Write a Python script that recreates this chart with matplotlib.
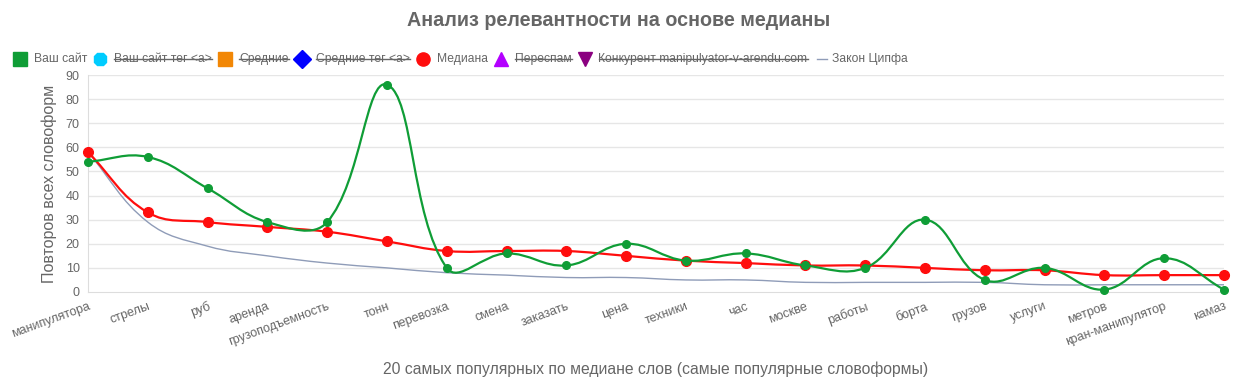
import numpy as np
import matplotlib.pyplot as plt
from matplotlib.path import Path
from matplotlib.patches import PathPatch
from matplotlib.lines import Line2D

plt.rcParams['font.family'] = ['Liberation Sans', 'DejaVu Sans']

words = ["манипулятора", "стрелы", "руб", "аренда", "грузоподъемность", "тонн",
         "перевозка", "смена", "заказать", "цена", "техники", "час", "москве",
         "работы", "борта", "грузов", "услуги", "метров", "кран-манипулятор", "камаз"]
site = [54, 56, 43, 29, 29, 86, 10, 16, 11, 20, 13, 16, 11, 10, 30, 5, 10, 1, 14, 1]
median = [58, 33, 29, 27, 25, 21, 17, 17, 17, 15, 13, 12, 11, 11, 10, 9, 9, 7, 7, 7]
zipf = [58, 29, 19, 15, 12, 10, 8, 7, 6, 6, 5, 5, 4, 4, 4, 4, 3, 3, 3, 3]

legend_items = [
    ("Ваш сайт", "#0f9d36", "s", False),
    ("Ваш сайт тег <a>", "#00ccff", "8", True),
    ("Средние", "#f28705", "s", True),
    ("Средние тег <a>", "#0000ff", "D", True),
    ("Медиана", "#ff0d0d", "o", False),
    ("Переспам", "#b300ff", "^", True),
    ("Конкурент manipulyator-v-arendu.com", "#8b0080", "v", True),
    ("Закон Ципфа", "#8f9cb8", "line", False),
]

GREY = "#666666"
W, H = 1249, 387

fig = plt.figure(figsize=(W / 100, H / 100), dpi=100)
ax = fig.add_axes([88 / W, 1 - 292 / H, (1224 - 88) / W, (292 - 75) / H])
ax.set_xlim(0, len(words) - 1)
ax.set_ylim(0, 90)

x = np.arange(len(words))


def spline(xs, ys, t=0.4):
    # chart.js-like cubic bezier with tension, computed in pixel space
    bb = ax.get_window_extent()
    sx = bb.width / (len(words) - 1)
    sy = bb.height / 90.0
    px = np.array(xs, float) * sx
    py = np.array(ys, float) * sy
    n = len(px)
    cpl = [None] * n
    cpr = [None] * n
    for i in range(n):
        p0 = (px[max(i - 1, 0)], py[max(i - 1, 0)])
        p1 = (px[i], py[i])
        p2 = (px[min(i + 1, n - 1)], py[min(i + 1, n - 1)])
        d01 = np.hypot(p1[0] - p0[0], p1[1] - p0[1])
        d12 = np.hypot(p2[0] - p1[0], p2[1] - p1[1])
        s = d01 + d12
        s01 = d01 / s if s else 0
        s12 = d12 / s if s else 0
        fa = t * s01
        fb = t * s12
        cpl[i] = (p1[0] - fa * (p2[0] - p0[0]), p1[1] - fa * (p2[1] - p0[1]))
        cpr[i] = (p1[0] + fb * (p2[0] - p0[0]), p1[1] + fb * (p2[1] - p0[1]))
    verts = [(px[0], py[0])]
    codes = [Path.MOVETO]
    for i in range(1, n):
        verts += [cpr[i - 1], cpl[i], (px[i], py[i])]
        codes += [Path.CURVE4] * 3
    verts = [(a / sx, max(b, 0) / sy) for a, b in verts]
    return Path(verts, codes)


for yv in range(10, 91, 10):
    ax.axhline(yv, color="#e6e6e6", lw=1, zorder=0)

ax.add_patch(PathPatch(spline(x, zipf), fill=False, ec="#8f9cb8", lw=1.0, zorder=2))
ax.add_patch(PathPatch(spline(x, median), fill=False, ec="#ff0d0d", lw=1.6, zorder=3))
ax.plot(x, median, "o", color="#ff0d0d", ms=7, zorder=4, clip_on=False)
ax.add_patch(PathPatch(spline(x, site), fill=False, ec="#0f9d36", lw=1.6, zorder=5))
ax.plot(x, site, "o", color="#0f9d36", ms=5.5, zorder=6, clip_on=False)

for s in ["top", "right"]:
    ax.spines[s].set_visible(False)
for s in ["left", "bottom"]:
    ax.spines[s].set_color("#dddddd")
ax.set_yticks(range(0, 91, 10))
ax.set_xticks(x)
ax.set_xticklabels(words, rotation=20, ha="right", rotation_mode="anchor")
ax.tick_params(colors=GREY, labelsize=9, length=0, pad=6)
ax.set_ylabel("Повторов всех словоформ", color=GREY, fontsize=11.5, labelpad=6)
ax.set_xlabel("20 самых популярных по медиане слов (самые популярные словоформы)",
              color=GREY, fontsize=11.3, labelpad=10)

fig.text(0.495, 1 - 20 / H, "Анализ релевантности на основе медианы", ha="center",
         va="center", fontsize=14.2, fontweight="bold", color=GREY)

# legend built by hand so hidden datasets can be struck through
fig.canvas.draw()
rend = fig.canvas.get_renderer()
xpos = 13
ly = 1 - 59 / H
for label, col, mk, hidden in legend_items:
    if mk == "line":
        fig.add_artist(Line2D([(xpos + 3) / W, (xpos + 13) / W], [ly, ly], color=col, lw=1))
        tx = xpos + 18
    else:
        fig.add_artist(Line2D([(xpos + 7) / W], [ly], marker=mk, color=col, ms=9.5, ls="none"))
        tx = xpos + 21
    t = fig.text(tx / W, ly, label, fontsize=8.7, color=GREY, va="center", ha="left")
    bb = t.get_window_extent(rend)
    if hidden:
        fig.add_artist(Line2D([bb.x0 / W, bb.x1 / W], [ly, ly], color=GREY, lw=1))
    xpos = bb.x1 + 6

fig.savefig("out.png", dpi=100)
